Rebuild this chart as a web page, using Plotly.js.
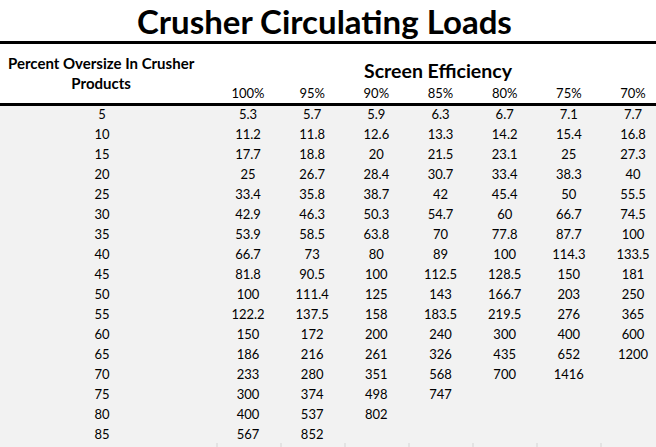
<!DOCTYPE html>
<html>
<head>
<meta charset="utf-8">
<script src="https://cdn.plot.ly/plotly-3.0.1.min.js"></script>
<style>html,body{margin:0;padding:0;background:#fff;}#chart{width:656px;height:447px;}</style>
</head>
<body>
<div id="chart"></div>
<script>
const title = "Crusher Circulating Loads";
const rowHeader = "Percent Oversize In Crusher<br>Products";
const groupHeader = "Screen Efficiency";
const oversize = [5,10,15,20,25,30,35,40,45,50,55,60,65,70,75,80,85];
const efficiencies = ["100%","95%","90%","85%","80%","75%","70%"];
const eff100 = [5.3,11.2,17.7,25,33.4,42.9,53.9,66.7,81.8,100,122.2,150,186,233,300,400,567];
const eff95  = [5.7,11.8,18.8,26.7,35.8,46.3,58.5,73,90.5,111.4,137.5,172,216,280,374,537,852];
const eff90  = [5.9,12.6,20,28.4,38.7,50.3,63.8,80,100,125,158,200,261,351,498,802,null];
const eff85  = [6.3,13.3,21.5,30.7,42,54.7,70,89,112.5,143,183.5,240,326,568,747,null,null];
const eff80  = [6.7,14.2,23.1,33.4,45.4,60,77.8,100,128.5,166.7,219.5,300,435,700,null,null,null];
const eff75  = [7.1,15.4,25,38.3,50,66.7,87.7,114.3,150,203,276,400,652,1416,null,null,null];
const eff70  = [7.7,16.8,27.3,40,55.5,74.5,100,133.5,181,250,365,600,1200,null,null,null,null];
const columns = [eff100,eff95,eff90,eff85,eff80,eff75,eff70];

const FONT = "Lato, 'Open Sans', sans-serif";
const W = 656, H = 447;
// axis scale: column index -> x, row index -> y
const colStep = 64.17, col0 = 248;
const rowStep = 20, row0 = 116;
const xRange = [-col0/colStep, (W-col0)/colStep];
const yRange = [(H-row0)/rowStep, -row0/rowStep];
const labelColX = (102-col0)/colStep;
const headerRowY = (95-row0)/rowStep;

const traces = [];
// row labels
traces.push({
  type:'scatter', mode:'text', x: oversize.map(()=>labelColX), y: oversize.map((_,i)=>i),
  text: oversize.map(String), textposition:'middle center',
  textfont:{family:FONT,size:13,color:'#000'}, hoverinfo:'skip', showlegend:false
});
// value columns
columns.forEach((col,ci)=>{
  const xs=[],ys=[],ts=[];
  col.forEach((v,ri)=>{ if(v!==null){xs.push(ci);ys.push(ri);ts.push(String(v));} });
  traces.push({type:'scatter',mode:'text',x:xs,y:ys,text:ts,textposition:'middle center',
    textfont:{family:FONT,size:13,color:'#000'},hoverinfo:'skip',showlegend:false});
});
// column headers
traces.push({
  type:'scatter', mode:'text', x: efficiencies.map((_,i)=>i), y: efficiencies.map(()=>headerRowY),
  text: efficiencies, textposition:'middle center',
  textfont:{family:FONT,size:13,color:'#000'}, hoverinfo:'skip', showlegend:false
});

const layout = {
  width:W, height:H, margin:{l:0,r:0,t:0,b:0},
  paper_bgcolor:'#ffffff', plot_bgcolor:'rgba(0,0,0,0)',
  xaxis:{range:xRange, visible:false, fixedrange:true},
  yaxis:{range:yRange, visible:false, fixedrange:true},
  shapes:[
    {type:'rect',xref:'paper',yref:'paper',x0:0,x1:1,y0:0,y1:1-105/H,fillcolor:'#f2f2f2',line:{width:0},layer:'below'},
    {type:'line',xref:'paper',yref:'paper',x0:0,x1:1,y0:1-42.5/H,y1:1-42.5/H,line:{color:'#000',width:3}},
    {type:'line',xref:'paper',yref:'paper',x0:0,x1:1,y0:1-104.5/H,y1:1-104.5/H,line:{color:'#000',width:3}}
  ].concat([217,281,345,409,473,537,601].map(px=>({type:'line',xref:'paper',yref:'paper',x0:px/W,x1:px/W,y0:0,y1:4/H,line:{color:'#d4d4d4',width:1}}))),
  annotations:[
    {text:'<b>'+title+'</b>',xref:'paper',yref:'paper',x:324/W,y:1-21/H,showarrow:false,xanchor:'center',yanchor:'middle',font:{family:FONT,size:33,color:'#000'}},
    {text:'<b>'+rowHeader+'</b>',xref:'paper',yref:'paper',x:101/W,y:1-73/H,showarrow:false,xanchor:'center',yanchor:'middle',align:'center',font:{family:FONT,size:15,color:'#000'}},
    {text:'<b>'+groupHeader+'</b>',xref:'paper',yref:'paper',x:438/W,y:1-71/H,showarrow:false,xanchor:'center',yanchor:'middle',font:{family:FONT,size:19.5,color:'#000'}}
  ]
};
Plotly.newPlot('chart',traces,layout,{staticPlot:true,displayModeBar:false});
</script>
</body>
</html>
